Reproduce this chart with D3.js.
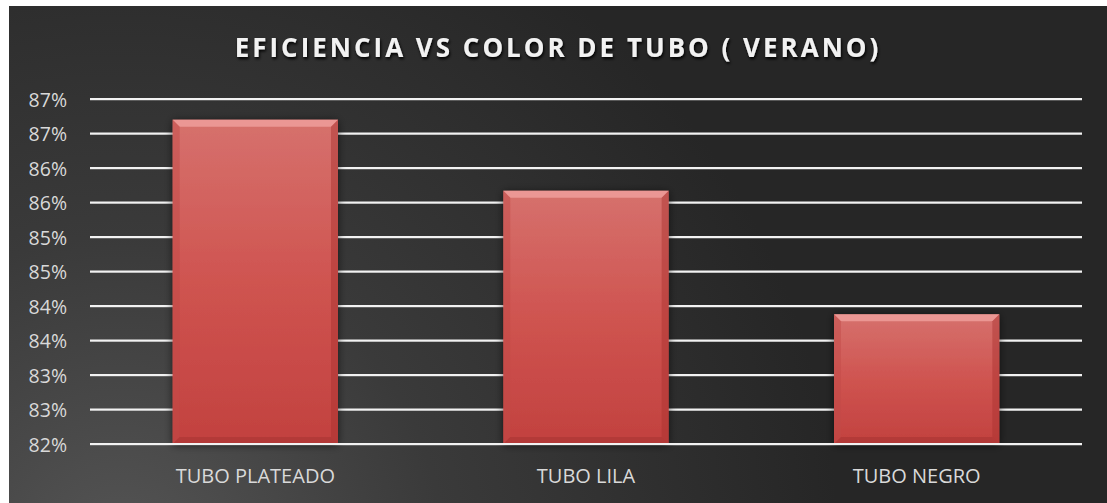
<!DOCTYPE html>
<html><head><meta charset="utf-8">
<script src="https://cdn.jsdelivr.net/npm/d3@7"></script>
<style>html,body{margin:0;padding:0;background:#fff;}svg{display:block;}</style>
</head><body>
<svg id="chart" width="1107" height="503"></svg>
<script>
const categories = ["TUBO PLATEADO", "TUBO LILA", "TUBO NEGRO"];
const values = [86.70, 85.67, 83.88];
const tickValues = [82, 82.5, 83, 83.5, 84, 84.5, 85, 85.5, 86, 86.5, 87];
const title = "EFICIENCIA VS COLOR DE TUBO ( VERANO)";

const svg = d3.select("#chart");
const W = 1107, H = 503;
const defs = svg.append("defs");

const bg = defs.append("radialGradient").attr("id","bg")
  .attr("gradientUnits","userSpaceOnUse").attr("cx",120).attr("cy",560).attr("r",720)
  .attr("fx",120).attr("fy",560);
bg.append("stop").attr("offset","0%").attr("stop-color","#555555");
bg.append("stop").attr("offset","45%").attr("stop-color","#3a3a3a");
bg.append("stop").attr("offset","100%").attr("stop-color","#262626");

const barG = defs.append("linearGradient").attr("id","barG").attr("x1",0).attr("y1",0).attr("x2",0).attr("y2",1);
barG.append("stop").attr("offset","0%").attr("stop-color","#d6716d");
barG.append("stop").attr("offset","50%").attr("stop-color","#cf5450");
barG.append("stop").attr("offset","100%").attr("stop-color","#c2413f");

const sh = defs.append("filter").attr("id","sh").attr("x","-20%").attr("y","-20%").attr("width","140%").attr("height","140%");
sh.append("feGaussianBlur").attr("in","SourceAlpha").attr("stdDeviation",4).attr("result","b");
sh.append("feOffset").attr("in","b").attr("dx",0).attr("dy",1).attr("result","o");
sh.append("feComponentTransfer").attr("in","o").attr("result","o2").append("feFuncA").attr("type","linear").attr("slope",0.6);
const m = sh.append("feMerge"); m.append("feMergeNode").attr("in","o2"); m.append("feMergeNode").attr("in","SourceGraphic");

const tsh = defs.append("filter").attr("id","tsh").attr("x","-5%").attr("y","-30%").attr("width","110%").attr("height","160%");
tsh.append("feGaussianBlur").attr("in","SourceAlpha").attr("stdDeviation",1.5).attr("result","b");
tsh.append("feOffset").attr("in","b").attr("dx",1).attr("dy",2).attr("result","o");
const m2 = tsh.append("feMerge"); m2.append("feMergeNode").attr("in","o"); m2.append("feMergeNode").attr("in","SourceGraphic");

svg.append("rect").attr("x",9).attr("y",6).attr("width",W-9).attr("height",H-6).attr("fill","url(#bg)");

const margin = {left:90, right:1082, top:99, bottom:444};
const x = d3.scaleBand().domain(categories).range([margin.left, margin.right]).paddingInner(0.5).paddingOuter(0.25);
const y = d3.scaleLinear().domain([82, 87]).range([margin.bottom, margin.top]);

const grid = svg.append("g");
grid.selectAll("line.s").data(tickValues).join("line")
  .attr("x1",margin.left).attr("x2",margin.right)
  .attr("y1",d=>y(d)+1).attr("y2",d=>y(d)+1)
  .attr("stroke","#8a8a8a").attr("stroke-width",1);
grid.selectAll("line.g").data(tickValues).join("line")
  .attr("x1",margin.left).attr("x2",margin.right)
  .attr("y1",d=>y(d)).attr("y2",d=>y(d))
  .attr("stroke","#f2f2f2").attr("stroke-width",2);

const yAxis = d3.axisLeft(y).tickValues(tickValues).tickFormat(d=>d3.format(".0f")(d)+"%").tickSize(0).tickPadding(0);
const ya = svg.append("g").attr("transform","translate(67,0)").call(yAxis);
ya.select(".domain").remove();
ya.selectAll("text").attr("fill","#d9d9d9").attr("font-family","'Open Sans', sans-serif").attr("font-size",19.5).attr("dy","0.36em");

const bars = svg.append("g");
const bw = x.bandwidth();
const bevel = 7;
categories.forEach((c,i)=>{
  const x0 = x(c), x1 = x0 + bw, y0 = y(values[i]), y1 = y(82);
  const g = bars.append("g");
  g.append("rect").attr("x",x0).attr("y",y0).attr("width",bw).attr("height",y1-y0)
    .attr("fill","url(#barG)").attr("filter","url(#sh)");
  g.append("path").attr("d",`M${x0},${y0}L${x1},${y0}L${x1-bevel},${y0+bevel}L${x0+bevel},${y0+bevel}Z`)
    .attr("fill","#f2a4a1").attr("opacity",0.75);
  g.append("path").attr("d",`M${x0},${y0}L${x0+bevel},${y0+bevel}L${x0+bevel},${y1-bevel}L${x0},${y1}Z`)
    .attr("fill","#c24a47").attr("opacity",0.45);
  g.append("path").attr("d",`M${x1},${y0}L${x1-bevel},${y0+bevel}L${x1-bevel},${y1-bevel}L${x1},${y1}Z`)
    .attr("fill","#a9302e").attr("opacity",0.45);
  g.append("path").attr("d",`M${x0},${y1}L${x0+bevel},${y1-bevel}L${x1-bevel},${y1-bevel}L${x1},${y1}Z`)
    .attr("fill","#a3312f").attr("opacity",0.5);
});

svg.append("line").attr("x1",margin.left).attr("x2",margin.right).attr("y1",y(82)).attr("y2",y(82))
  .attr("stroke","#f2f2f2").attr("stroke-width",2);

const xAxis = d3.axisBottom(x).tickSize(0).tickPadding(0);
const xa = svg.append("g").attr("transform",`translate(0,${margin.bottom+32})`).call(xAxis);
xa.select(".domain").remove();
xa.selectAll("text").attr("fill","#d9d9d9").attr("font-family","'Open Sans', sans-serif").attr("font-size",20).attr("dy","0.36em");

svg.append("text").attr("x",558).attr("y",57).attr("text-anchor","middle")
  .attr("fill","#f2f2f2").attr("font-family","'Open Sans', sans-serif").attr("font-weight","bold")
  .attr("font-size",26).attr("letter-spacing",3.0).attr("filter","url(#tsh)")
  .text(title);
</script>
</body></html>
